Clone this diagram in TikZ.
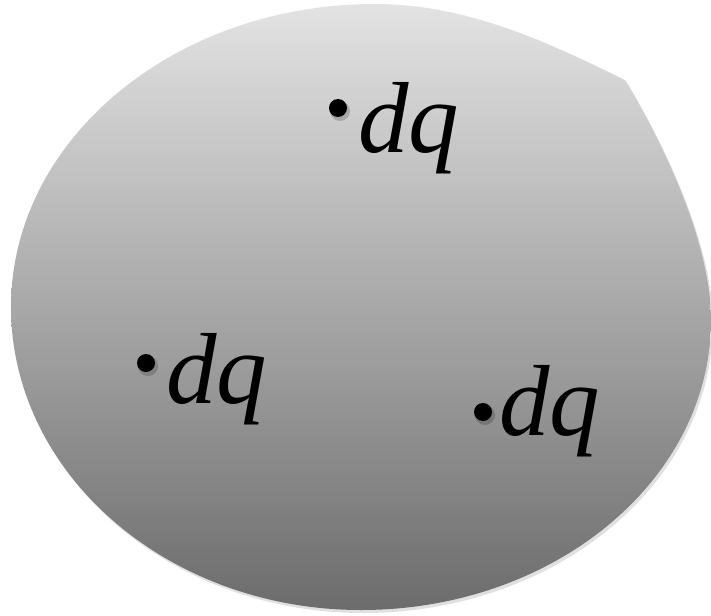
\documentclass[tikz,border=0pt]{standalone}
\usepackage{fontspec}
\setmainfont{Liberation Serif}
\definecolor{blobtop}{HTML}{E3E3E3}
\definecolor{blobbot}{HTML}{6C6C6C}
\newcommand{\blobpath}{(625,80) .. controls (646,114) and (711,230) .. (711,320)
  .. controls (711,480) and (554,610) .. (361,610)
  .. controls (168,610) and (11,474) .. (11,307)
  .. controls (11,140) and (174,4) .. (375,4)
  .. controls (470,4) and (553,45) .. (625,80) -- cycle}
\begin{document}
\begin{tikzpicture}[x=1pt,y=-1pt,
  dqtext/.style={inner sep=0pt, anchor=base west, font=\fontsize{101}{101}\selectfont\itshape},
  chargedot/.style={circle, fill=black, inner sep=0pt, minimum size=18pt},
  dotshadow/.style={circle, fill=black, opacity=0.18, inner sep=0pt, minimum size=20pt}]
\useasboundingbox (0,0) rectangle (711,615);
\fill[black, opacity=0.12, shift={(2,3)}] \blobpath;
\shade[top color=blobtop, bottom color=blobbot] \blobpath;
% top
\node[dotshadow] (s1) at (340,111) {};
\node[chargedot] (d1) at (338,108) {};
\node[dqtext] (t1) at (358,152) {dq};
% left
\node[dotshadow] (s2) at (148,366) {};
\node[chargedot] (d2) at (146,363) {};
\node[dqtext] (t2) at (166,403) {dq};
% right
\node[dotshadow] (s3) at (485,415) {};
\node[chargedot] (d3) at (483,412) {};
\node[dqtext] (t3) at (499,435) {dq};
\end{tikzpicture}
\end{document}
